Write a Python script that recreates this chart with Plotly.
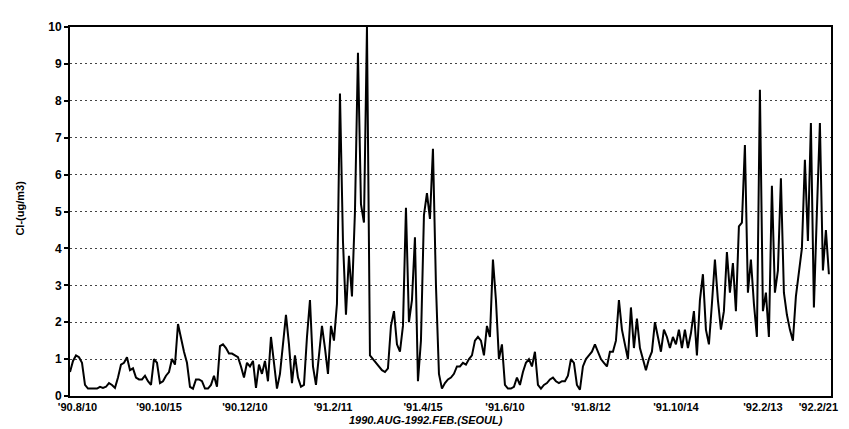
import plotly.graph_objects as go

# Cl- concentration (ug/m3), successive observations, 1990 AUG - 1992 FEB, Seoul
cl_values = [
    0.65, 0.95, 1.1, 1.05, 0.9, 0.3, 0.2, 0.2, 0.18, 0.2, 0.25, 0.22, 0.25, 0.35, 0.3, 0.22,
    0.5, 0.85, 0.9, 1.05, 0.7, 0.75, 0.5, 0.45, 0.45, 0.55, 0.4, 0.3, 1.0, 0.9, 0.35, 0.4,
    0.55, 0.65, 1.0, 0.85, 1.95, 1.55, 1.2, 0.9, 0.25, 0.2, 0.45, 0.45, 0.4, 0.2, 0.2, 0.3,
    0.55, 0.25, 1.35, 1.4,
    1.3, 1.15, 1.15, 1.1, 1.05, 0.8, 0.5, 0.9, 0.8, 0.95, 0.22, 0.85, 0.6, 0.95, 0.4, 1.6,
    0.8, 0.2, 0.6, 1.4, 2.2, 1.4, 0.35, 1.1, 0.5, 0.25, 0.3, 1.6, 2.6, 0.8, 0.3, 1.1,
    1.9, 1.3, 0.6, 1.9, 1.5,
    2.5, 8.2, 4.2, 2.2, 3.8, 2.7, 5.0, 9.3, 5.2, 4.7, 10.0, 1.1, 1.0, 0.9, 0.8, 0.7,
    0.65, 0.75, 1.9, 2.3, 1.4, 1.2, 1.9, 5.1, 2.0, 2.6, 4.3, 0.4, 1.5, 4.9, 5.5, 4.8,
    6.7, 3.0, 0.6, 0.2, 0.35, 0.45, 0.5, 0.6, 0.8, 0.8, 0.9, 0.85, 1.0, 1.1, 1.5,
    1.6, 1.5, 1.1, 1.9, 1.6, 3.7, 2.6, 1.0, 1.4, 0.3, 0.2, 0.2, 0.25, 0.5, 0.3, 0.65,
    0.9, 1.0, 0.8, 1.2, 0.3, 0.2, 0.3, 0.35, 0.45, 0.5, 0.4, 0.35, 0.4, 0.4, 0.55, 1.0,
    0.9, 0.3, 0.17, 0.8, 1.0, 1.1, 1.2, 1.4, 1.2, 1.0, 0.9, 0.8, 1.2, 1.2, 1.5, 2.6,
    1.8, 1.4, 1.0, 2.4, 1.3, 2.1, 1.3, 1.0, 0.7, 1.0, 1.2, 2.0, 1.6, 1.2, 1.8, 1.6,
    1.3, 1.6, 1.4, 1.8, 1.3, 1.8, 1.3, 1.7, 2.3, 1.1, 2.6, 3.3, 1.8, 1.4, 2.5, 3.7,
    2.6, 1.8, 2.3, 3.9, 2.8, 3.6, 2.3, 4.6, 4.7, 6.8, 2.8, 3.7, 2.5, 1.6, 8.3, 2.3,
    2.8, 1.6, 5.7, 2.8, 3.4, 5.9, 2.8, 2.2, 1.8, 1.5, 2.7, 3.4, 4.0, 6.4, 4.2, 7.4,
    2.4, 5.0, 7.4, 3.4, 4.5, 3.3,
]
obs_index = list(range(len(cl_values)))

x_tick_labels = ["'90.8/10", "'90.10/15", "'90.12/10", "'91.2/11", "'91.4/15",
                 "'91.6/10", "'91.8/12", "'91.10/14", "'92.2/13", "'92.2/21"]
x_tick_positions = [2.5, 29.7, 58.3, 87.7, 117.7, 145, 173.7, 202, 231, 249.5]
y_tick_values = list(range(0, 11))

font_family = "Liberation Sans, Arial, sans-serif"

fig = go.Figure()
fig.add_trace(go.Scatter(
    x=obs_index, y=cl_values, mode="lines",
    line=dict(color="black", width=2),
    showlegend=False, hoverinfo="skip",
))

fig.update_layout(
    width=849, height=429,
    margin=dict(l=62, r=26, t=15, b=41),
    paper_bgcolor="white", plot_bgcolor="white",
    font=dict(family=font_family, color="black", size=11),
    xaxis=dict(
        range=[0, 253.7],
        tickmode="array", tickvals=x_tick_positions, ticktext=x_tick_labels,
        ticks="", showgrid=False, zeroline=False,
        showline=True, linecolor="black", linewidth=2, mirror=True,
        tickfont=dict(family=font_family, size=11, color="black", weight="bold"),
    ),
    yaxis=dict(
        range=[0, 10],
        tickmode="array", tickvals=y_tick_values,
        ticks="outside", ticklen=4, tickcolor="black", tickwidth=1.5,
        showgrid=True, gridcolor="#444444", gridwidth=1, griddash="2px,3px",
        zeroline=False,
        showline=True, linecolor="black", linewidth=2, mirror=True,
        tickfont=dict(family=font_family, size=12, color="black", weight="bold"),
    ),
    annotations=[
        dict(text="<b>Cl-(ug/m3)</b>", xref="paper", yref="paper", x=-0.066, y=0.51,
             textangle=-90, showarrow=False, xanchor="center", yanchor="middle",
             font=dict(family=font_family, size=11, color="black")),
        dict(text="<i><b>1990.AUG-1992.FEB.(SEOUL)</b></i>", xref="paper", yref="paper",
             x=0.468, y=-0.064, showarrow=False, xanchor="center", yanchor="middle",
             font=dict(family=font_family, size=11, color="black")),
    ],
)

fig.write_html("out.html")
